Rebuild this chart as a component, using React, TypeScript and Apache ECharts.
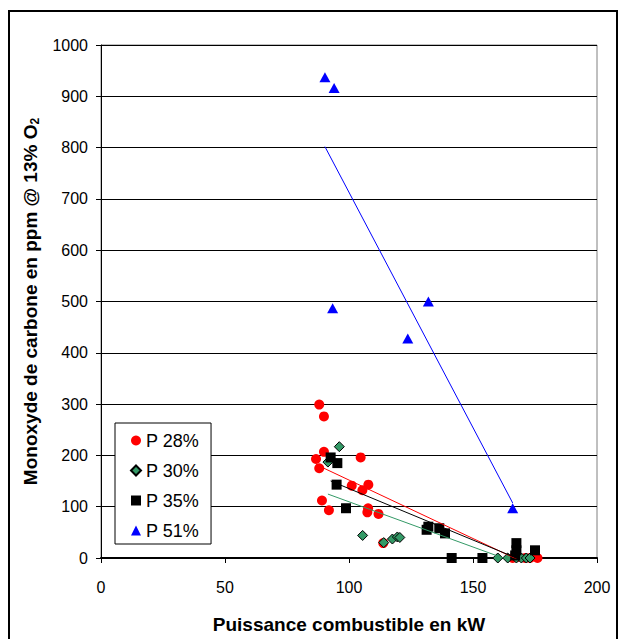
import React, { useEffect, useRef } from "react";
import * as echarts from "echarts";

const FONT = "'Liberation Sans', Arial, sans-serif";

const seriesNames = ["P 28%", "P 30%", "P 35%", "P 51%"];

const p28x = [88.0, 89.9, 89.9, 86.7, 88.0, 104.7, 101.1, 107.8, 105.4, 89.1, 91.9, 107.7, 107.4, 111.9, 113.8, 166, 168, 171, 173, 176];
const p28y = [299, 276, 207, 193, 175, 196, 141, 143, 132, 112, 93, 97, 89, 86, 29, 0, 2, 0, 0, 0];

const p30x = [96.1, 91.5, 105.5, 114, 117.5, 119.5, 120.5, 160, 164, 167.5, 169.5, 171.5, 173];
const p30y = [217, 187, 44, 30, 37, 41, 40, 0, 0, 0, 0, 0, 0];

const p35x = [92.6, 95.3, 95, 98.8, 131.3, 132, 136.4, 138.7, 141.4, 153.8, 167.5, 167.5, 167, 175];
const p35y = [196, 185, 143, 97, 55, 61, 58, 48, 0, 0, 29, 15, 5, 15];

const p51x = [90.3, 94.0, 93.4, 132, 123.7, 166];
const p51y = [937, 916, 487, 500, 428, 97];

const xTicks = { min: 0, max: 200, interval: 50 };
const yTicks = { min: 0, max: 1000, interval: 100 };

function pairs(xs: number[], ys: number[]) {
  return xs.map((x, i) => [x, ys[i]]);
}

function trend(xs: number[], ys: number[]) {
  const n = xs.length;
  const mx = xs.reduce((a, b) => a + b, 0) / n;
  const my = ys.reduce((a, b) => a + b, 0) / n;
  let sxy = 0;
  let sxx = 0;
  for (let i = 0; i < n; i++) {
    sxy += (xs[i] - mx) * (ys[i] - my);
    sxx += (xs[i] - mx) * (xs[i] - mx);
  }
  const b = sxy / sxx;
  const a = my - b * mx;
  const x0 = Math.min(...xs);
  const x1 = Math.max(...xs);
  return [
    [x0, a + b * x0],
    [x1, a + b * x1],
  ];
}

export default function App() {
  const ref = useRef<HTMLDivElement>(null);
  useEffect(() => {
    document.body.style.margin = "0";
    const chart = echarts.init(ref.current!, null, { renderer: "svg" });
    const colors = ["#ff0000", "#339966", "#000000", "#0000ff"];
    const xsAll = [p28x, p30x, p35x, p51x];
    const ysAll = [p28y, p30y, p35y, p51y];
    const symbols = ["circle", "diamond", "rect", "triangle"];
    const sizes: any[] = [10, 10, 10, [11, 10]];

    const scatter = seriesNames.map((name, i) => ({
      name,
      type: "scatter",
      symbol: symbols[i],
      symbolSize: sizes[i],
      data: pairs(xsAll[i], ysAll[i]),
      itemStyle:
        i === 1
          ? { color: colors[i], borderColor: "#000", borderWidth: 1, opacity: 1 }
          : { color: colors[i], opacity: 1 },
      z: 2,
    }));
    const lines = seriesNames.map((name, i) => ({
      name: name + " trend",
      type: "line",
      data: trend(xsAll[i], ysAll[i]),
      symbol: "none",
      silent: true,
      clip: true,
      lineStyle: { color: colors[i], width: 1 },
      z: 3,
    }));

    chart.setOption({
      animation: false,
      backgroundColor: "#fff",
      textStyle: { fontFamily: FONT, color: "#000" },
      grid: {
        left: 101,
        right: 30,
        top: 45,
        bottom: 80,
        show: true,
        borderColor: "#808080",
        borderWidth: 1,
        backgroundColor: "transparent",
      },
      graphic: [
        {
          type: "rect",
          shape: { x: 9, y: 11, width: 608, height: 660 },
          style: { fill: "none", stroke: "#000", lineWidth: 2 },
          silent: true,
          z: 100,
        },
      ],
      legend: {
        data: seriesNames,
        orient: "vertical",
        left: 115,
        top: 423,
        backgroundColor: "#fff",
        borderColor: "#000",
        borderWidth: 1,
        borderRadius: 0,
        padding: [8, 12, 4, 15],
        itemGap: 11,
        itemWidth: 10,
        itemHeight: 10,
        textStyle: { fontSize: 18, fontFamily: FONT, color: "#000", lineHeight: 19 },
      },
      xAxis: {
        type: "value",
        min: xTicks.min,
        max: xTicks.max,
        interval: xTicks.interval,
        name: "Puissance combustible en kW",
        nameLocation: "middle",
        nameGap: 57,
        nameTextStyle: { fontSize: 19, fontWeight: "bold", fontFamily: FONT, color: "#000" },
        axisLine: { show: true, onZero: false, lineStyle: { color: "#000", width: 2 } },
        axisTick: { show: true, length: 5, lineStyle: { color: "#000" } },
        axisLabel: { fontSize: 16, margin: 21, color: "#000", fontFamily: FONT, formatter: (v: number) => String(v) },
        splitLine: { show: false },
      },
      yAxis: {
        type: "value",
        min: yTicks.min,
        max: yTicks.max,
        interval: yTicks.interval,
        name: "{b|Monoxyde de carbone en ppm @ 13% O}{s|2}",
        nameLocation: "middle",
        nameGap: 60,
        nameTextStyle: {
          fontFamily: FONT,
          color: "#000",
          rich: {
            b: { fontSize: 19, fontWeight: "bold", fontFamily: FONT, lineHeight: 22 },
            s: { fontSize: 12, fontWeight: "bold", fontFamily: FONT, lineHeight: 12, verticalAlign: "bottom" },
          },
        },
        axisLine: { show: true, lineStyle: { color: "#000", width: 1 } },
        axisTick: { show: true, length: 5, lineStyle: { color: "#000" } },
        axisLabel: { fontSize: 16, margin: 13, color: "#000", fontFamily: FONT, formatter: (v: number) => String(v) },
        splitLine: { show: true, lineStyle: { color: "#000", width: 1 } },
      },
      series: [...scatter, ...lines],
    });
    return () => chart.dispose();
  }, []);
  return <div ref={ref} style={{ width: 627, height: 639 }} />;
}
